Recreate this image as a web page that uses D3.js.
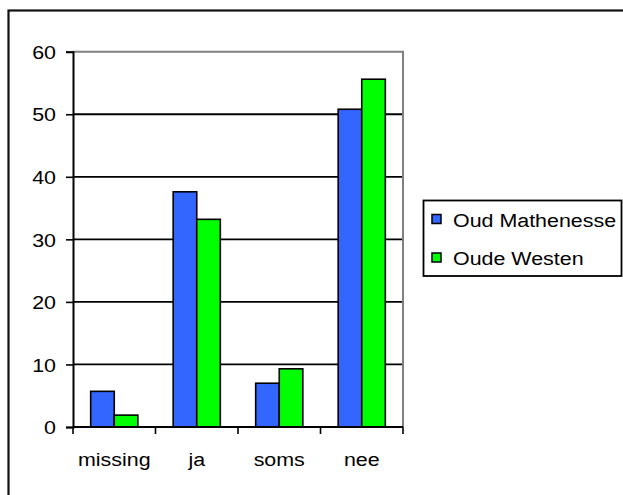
<!DOCTYPE html>
<html>
<head>
<meta charset="utf-8">
<script src="https://cdn.jsdelivr.net/npm/d3@7"></script>
<style>
  html, body { margin: 0; padding: 0; background: #fff; }
  svg { display: block; }
  text { font-family: Arial, "Liberation Sans", sans-serif; fill: #000; }
</style>
</head>
<body>
<svg id="chart" width="623" height="495"></svg>
<script>
const categories = ["missing", "ja", "soms", "nee"];
const seriesNames = ["Oud Mathenesse", "Oude Westen"];
const oudMathenesse = [5.7, 37.6, 7.0, 50.8];
const oudeWesten = [1.9, 33.2, 9.3, 55.6];
const seriesColors = ["#3366FF", "#00FF00"];
const yTicks = [0, 10, 20, 30, 40, 50, 60];

const seriesValues = [oudMathenesse, oudeWesten];
const svg = d3.select("#chart");

const FS = 18.8, SX = 1.14;
function stretchedText(sel, x, y) {
  return sel.attr("transform", `translate(${x},${y}) scale(${SX},1)`).style("font-size", FS + "px");
}

// outer chart border
svg.append("rect").attr("x", 8.5).attr("y", 10.5).attr("width", 700).attr("height", 600)
  .attr("fill", "#fff").attr("stroke", "#111").attr("stroke-width", 2.2);

const plot = { left: 73, right: 403, top: 51.7, bottom: 427 };

const y = d3.scaleLinear().domain([0, 60]).range([plot.bottom, plot.top]);
const x0 = d3.scaleBand().domain(categories).range([plot.left, plot.right]).padding(0);
const x1 = d3.scaleBand().domain(seriesNames).range([0, x0.bandwidth()]).paddingInner(0).paddingOuter(0.75);

// gridlines
svg.append("g").selectAll("line").data(yTicks.filter(t => t > 0 && t < 60)).join("line")
  .attr("x1", plot.left).attr("x2", plot.right)
  .attr("y1", d => y(d)).attr("y2", d => y(d))
  .attr("stroke", "#000").attr("stroke-width", 1.8);

// plot area top/right border (gray)
svg.append("path")
  .attr("d", `M${plot.left},${y(60)}H${plot.right}V${plot.bottom}`)
  .attr("fill", "none").attr("stroke", "#808080").attr("stroke-width", 2);

// bars
const groups = svg.append("g").selectAll("g").data(categories).join("g")
  .attr("transform", d => `translate(${x0(d)},0)`);
groups.selectAll("rect").data((d, i) => seriesNames.map((s, j) => ({ s, j, v: seriesValues[j][i] })))
  .join("rect")
  .attr("x", d => x1(d.s)).attr("width", x1.bandwidth())
  .attr("y", d => y(d.v)).attr("height", d => y(0) - y(d.v))
  .attr("fill", d => seriesColors[d.j]).attr("stroke", "#000").attr("stroke-width", 1.6);

// y axis
const yAxis = svg.append("g").attr("transform", `translate(${plot.left},0)`)
  .call(d3.axisLeft(y).tickValues(yTicks).tickSize(7).tickPadding(0).tickFormat(d3.format("d")));
yAxis.select(".domain").attr("stroke", "#000").attr("stroke-width", 2);
yAxis.selectAll(".tick line").attr("stroke", "#000").attr("stroke-width", 1.6);
yAxis.selectAll(".tick text").each(function() {
  d3.select(this).attr("x", null).attr("dy", null).attr("text-anchor", "end")
    .attr("transform", `translate(-17,6.7) scale(${SX},1)`).style("font-size", FS + "px")
    .attr("font-family", null);
});

// x axis
const xAxis = svg.append("g").attr("transform", `translate(0,${plot.bottom})`)
  .call(d3.axisBottom(x0).tickSize(0).tickFormat(""));
xAxis.select(".domain").remove();
xAxis.selectAll(".tick").remove();
xAxis.append("line").attr("x1", plot.left).attr("x2", plot.right).attr("stroke", "#000").attr("stroke-width", 2);
const bounds = categories.map(c => x0(c)).concat([x0(categories[categories.length - 1]) + x0.bandwidth()]);
xAxis.selectAll("line.tk").data(bounds).join("line").attr("class", "tk")
  .attr("x1", d => d).attr("x2", d => d).attr("y1", 0).attr("y2", 7)
  .attr("stroke", "#000").attr("stroke-width", 1.6);
svg.append("g").selectAll("text").data(categories).join("text")
  .attr("text-anchor", "middle").text(d => d)
  .each(function(d) { stretchedText(d3.select(this), x0(d) + x0.bandwidth() / 2, 466); });

// legend
const lg = svg.append("g");
lg.append("rect").attr("x", 423.5).attr("y", 200.5).attr("width", 198).attr("height", 75.5)
  .attr("fill", "#fff").attr("stroke", "#000").attr("stroke-width", 1.8);
const rows = lg.selectAll("g").data(seriesNames).join("g")
  .attr("transform", (d, i) => `translate(0,${219 + i * 38.5})`);
rows.append("rect").attr("x", 432).attr("y", -4.5).attr("width", 9).attr("height", 9)
  .attr("fill", (d, i) => seriesColors[i]).attr("stroke", "#000").attr("stroke-width", 1.5);
rows.append("text").text(d => d)
  .each(function() { stretchedText(d3.select(this), 453, 7.5); });
</script>
</body>
</html>
